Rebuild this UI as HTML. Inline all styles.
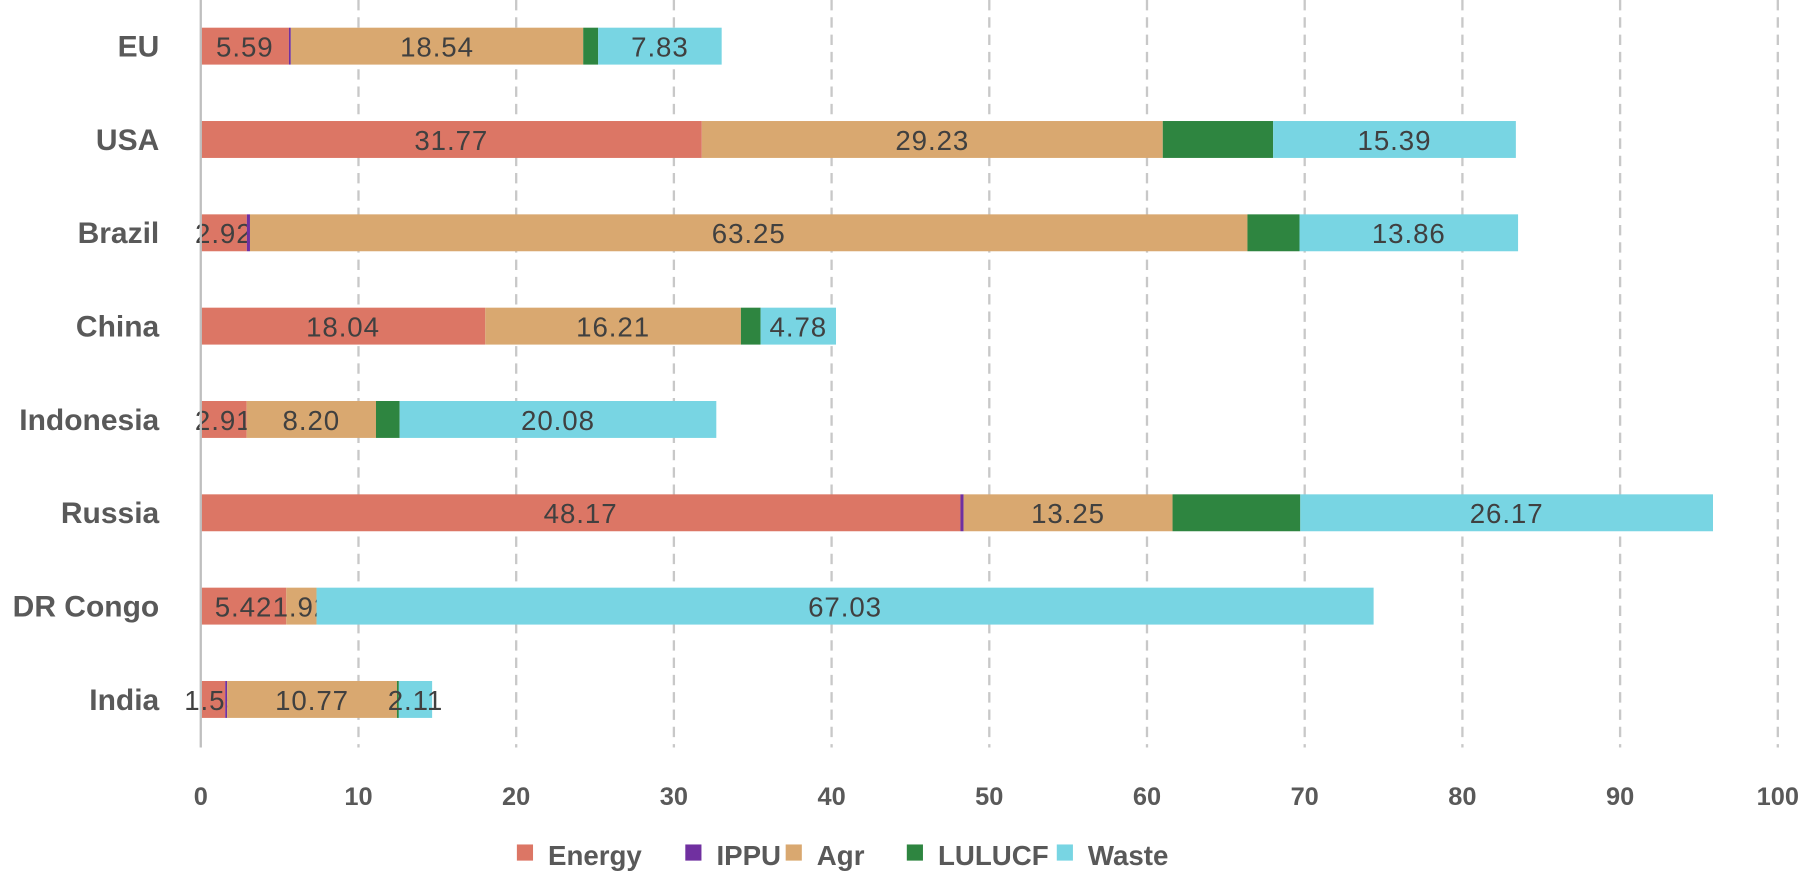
<!DOCTYPE html>
<html><head><meta charset="utf-8">
<style>
html,body{margin:0;padding:0;background:#fff;}
svg{display:block;font-family:"Liberation Sans",sans-serif;}
</style></head>
<body>
<svg id="chart" width="1809" height="874" viewBox="0 0 1568 757.6"></svg>
<script>
const categories = ["EU","USA","Brazil","China","Indonesia","Russia","DR Congo","India"];
const energy  = [5.59, 31.77, 2.92, 18.04, 2.91, 48.17, 5.42, 1.55];
const ippu    = [0.12, 0, 0.2, 0, 0, 0.2, 0, 0.12];
const agr     = [18.54, 29.23, 63.25, 16.21, 8.20, 13.25, 1.92, 10.77];
const lulucf  = [0.95, 7.0, 3.3, 1.25, 1.5, 8.1, 0, 0.12];
const waste   = [7.83, 15.39, 13.86, 4.78, 20.08, 26.17, 67.03, 2.11];
const seriesNames = ["Energy","IPPU","Agr","LULUCF","Waste"];
const xTicks = [0,10,20,30,40,50,60,70,80,90,100];

const colors = ["#DC7665","#7030A0","#D9A870","#2E8540","#78D5E3"];
const labelled = [true,false,true,false,true];
const series = [energy, ippu, agr, lulucf, waste];
const NS = "http://www.w3.org/2000/svg";
const svg = document.getElementById("chart");
const x0 = 174, x1 = 1541, plotTop = 0, plotBottom = 648;
const xs = v => x0 + (x1 - x0) * v / 100;
const rowY = i => 40 + i * 80.9;
const barH = 32;
function el(tag, attrs, parent) {
  const e = document.createElementNS(NS, tag);
  for (const k in attrs) e.setAttribute(k, attrs[k]);
  (parent || svg).appendChild(e);
  return e;
}
xTicks.forEach(t => {
  if (t === 0) return;
  const g = el("line", {x1: xs(t), x2: xs(t), y1: plotTop, y2: plotBottom, stroke: "#C8C8C8", "stroke-width": 2, "stroke-dasharray": "9,6"});
  
  
});
xTicks.forEach(t => {
  const tx = el("text", {x: xs(t), y: 698, "text-anchor": "middle", "font-size": 22, "font-weight": "bold", fill: "#595959"});
  tx.textContent = t;
  
  
});
categories.forEach((c, i) => {
  const cy = rowY(i);
  const cl = el("text", {x: 138, y: cy + 9, "text-anchor": "end", "font-size": 26, "font-weight": "bold", fill: "#595959"});
  cl.textContent = c;
  
  
  let acc = 0;
  series.forEach((s, j) => {
    const v = s[i];
    if (v > 0) {
      const r = el("rect", {x: xs(acc), y: cy - barH / 2, width: xs(acc + v) - xs(acc), height: barH, fill: colors[j]});
      
      
      if (labelled[j]) {
        const t = el("text", {x: (xs(acc) + xs(acc + v)) / 2, y: cy + 9, "text-anchor": "middle", "font-size": 24, "letter-spacing": 0.8, fill: "#404040"});
        t.textContent = v.toFixed(2);
        
        
      }
    }
    acc += v;
  });
});
const ax = el("line", {x1: x0, x2: x0, y1: plotTop, y2: plotBottom, stroke: "#BFBFBF", "stroke-width": 2});


const legendX = [448, 594, 681, 786, 916];
seriesNames.forEach((n, j) => {
  const g = el("g", {});
  
  
  el("rect", {x: legendX[j], y: 732, width: 14, height: 14, fill: colors[j]}, g);
  const t = el("text", {x: legendX[j] + 27, y: 750, "font-size": 24, "font-weight": "bold", fill: "#595959"}, g);
  t.textContent = n;
});
</script>
</body></html>
